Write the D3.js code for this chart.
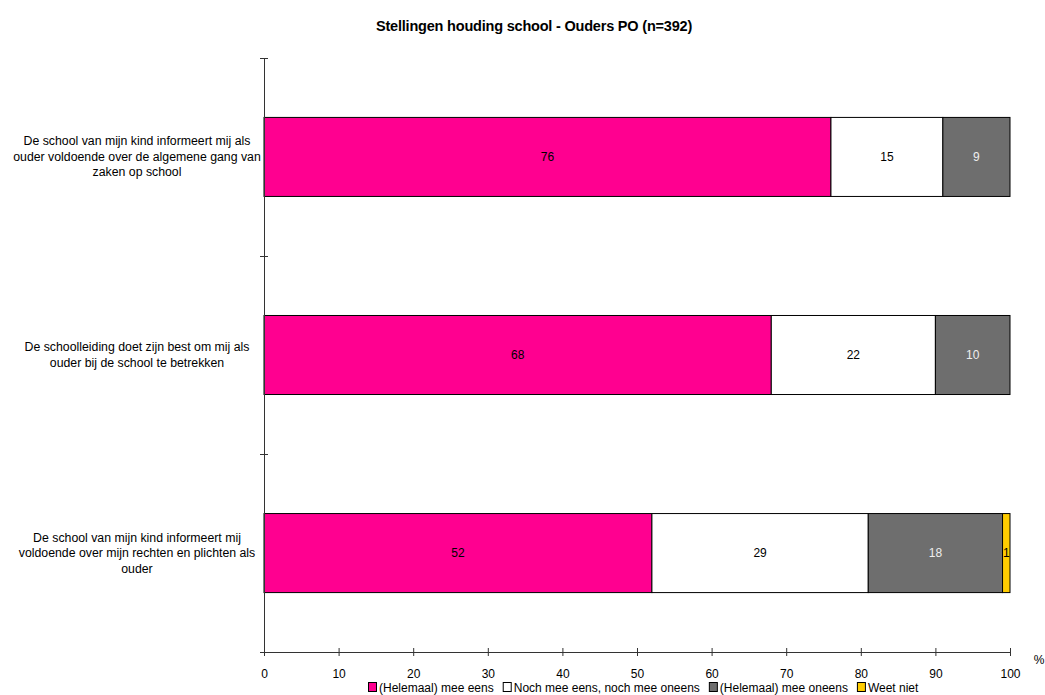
<!DOCTYPE html>
<html><head><meta charset="utf-8">
<script src="https://cdn.jsdelivr.net/npm/d3@7"></script>
<style>body{margin:0;background:#fff;} text{font-family:"Liberation Sans",Arial,sans-serif;}</style>
</head><body>
<svg id="c" width="1045" height="695"></svg>
<script>
const title = "Stellingen houding school - Ouders PO (n=392)";
const categories = [
  ["De school van mijn kind informeert mij als","ouder voldoende over de algemene gang van","zaken op school"],
  ["De schoolleiding doet zijn best om mij als","ouder bij de school te betrekken"],
  ["De school van mijn kind informeert mij","voldoende over mijn rechten en plichten als","ouder"]
];
const seriesNames = ["(Helemaal) mee eens","Noch mee eens, noch mee oneens","(Helemaal) mee oneens","Weet niet"];
const eens = [76, 68, 52];
const neutraal = [15, 22, 29];
const oneens = [9, 10, 18];
const weetNiet = [0, 0, 1];
const colors = ["#FF0090","#FFFFFF","#6E6E6E","#FFCC00"];
const labelColors = ["#000","#000","#eee","#000"];
const xTicks = [0,10,20,30,40,50,60,70,80,90,100];

const svg = d3.select("#c");
const x = d3.scaleLinear().domain([0,100]).range([264,1010]);
const y = d3.scaleBand().domain(d3.range(categories.length)).range([58,652]).paddingInner(0.601).paddingOuter(0.3);

svg.append("text").attr("x",534).attr("y",31).attr("text-anchor","middle")
  .attr("font-size",14.5).attr("font-weight","bold").attr("letter-spacing",-0.2).text(title);

const series = [eens, neutraal, oneens, weetNiet];
const rows = categories.map((c,i)=>{
  let acc=0; return series.map((s,k)=>{const v=s[i]; const r={i,k,x0:acc,x1:acc+v,v}; acc+=v; return r;});
});
rows.flat().filter(d=>d.v>0).forEach(d=>{
  svg.append("rect").attr("x",x(d.x0)).attr("y",y(d.i)).attr("width",x(d.x1)-x(d.x0))
    .attr("height",y.bandwidth()).attr("fill",colors[d.k]).attr("stroke","#000").attr("stroke-width",1);
  svg.append("text").attr("x",(x(d.x0)+x(d.x1))/2).attr("y",y(d.i)+y.bandwidth()/2+4)
    .attr("text-anchor","middle").attr("font-size",12).attr("fill",labelColors[d.k]).text(d.v);
});

// y axis
const g = svg.append("g").attr("stroke","#333").attr("stroke-width",1);
g.append("line").attr("x1",264.5).attr("x2",264.5).attr("y1",58).attr("y2",652);
const yTickPos = d3.range(categories.length+1).map(i=>58+i*y.step());
yTickPos.forEach(p=>g.append("line").attr("x1",260).attr("x2",268).attr("y1",Math.round(p)+0.5).attr("y2",Math.round(p)+0.5));
// x axis
const xa = svg.append("g").attr("transform","translate(0,652)").call(d3.axisBottom(x).tickValues(xTicks).tickSize(4).tickSizeOuter(0).tickPadding(13));
xa.select(".domain").attr("stroke","#333");
xa.selectAll(".tick line").attr("y1",-4).attr("stroke","#333");
xa.selectAll(".tick text").attr("font-size",12).attr("font-family","Liberation Sans, Arial, sans-serif").attr("fill","#000");
svg.append("text").attr("x",1039).attr("y",664).attr("text-anchor","middle").attr("font-size",12).text("%");

// category labels
categories.forEach((lines,i)=>{
  const cy = y(i)+y.bandwidth()/2;
  const t = svg.append("text").attr("text-anchor","middle").attr("font-size",12.3);
  lines.forEach((ln,j)=>{
    t.append("tspan").attr("x",137).attr("y",cy+4+(j-(lines.length-1)/2)*15.5).text(ln);
  });
});

// legend
const lg = svg.append("g");
let lx = 368;
seriesNames.forEach((n,k)=>{
  lg.append("rect").attr("x",lx+0.5).attr("y",682.5).attr("width",8).attr("height",9).attr("fill",colors[k]).attr("stroke","#000");
  const tt = lg.append("text").attr("x",lx+11).attr("y",692).attr("font-size",12).text(n);
  lx += 11 + tt.node().getComputedTextLength() + 9;
});
</script>
</body></html>
